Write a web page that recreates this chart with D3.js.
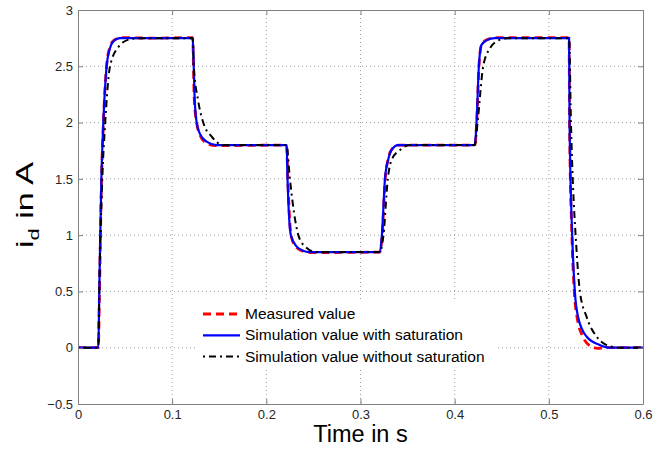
<!DOCTYPE html>
<html>
<head>
<meta charset="utf-8">
<script src="https://cdn.jsdelivr.net/npm/d3@7"></script>
<style>
  body { margin: 0; background: #fff; }
  svg { display: block; font-family: Arial, "Liberation Sans", sans-serif; }
</style>
</head>
<body>
<div id="chart"></div>
<script>
// Data: [time in s, i_d in A]
const measured = [
    [0, 0], [0.0216, 0], [0.0228, 0.5], [0.025, 1.5], [0.027, 2.0], [0.0303, 2.5], [0.0335, 2.66],
    [0.038, 2.73], [0.046, 2.755], [0.08, 2.75], [0.1217, 2.755], [0.1235, 2.2], [0.126, 2.0],
    [0.1295, 1.89], [0.136, 1.82], [0.146, 1.795], [0.2215, 1.8], [0.2228, 1.5], [0.2262, 1.0],
    [0.232, 0.89], [0.24, 0.855], [0.247, 0.845], [0.3206, 0.85], [0.323, 1.0], [0.3262, 1.5],
    [0.3295, 1.68], [0.3335, 1.765], [0.341, 1.8], [0.4214, 1.8], [0.4234, 2.0], [0.4258, 2.5],
    [0.4285, 2.69], [0.434, 2.735], [0.443, 2.755], [0.5215, 2.755], [0.522, 2.0], [0.5245, 1.0],
    [0.527, 0.5], [0.53, 0.27], [0.536, 0.1], [0.545, 0.01], [0.552, -0.005], [0.56, 0], [0.6, 0]
];

const withSaturation = [
    [0, 0], [0.0216, 0], [0.0226, 0.5], [0.0248, 1.5], [0.0269, 2.0], [0.0304, 2.5], [0.0335, 2.65],
    [0.0375, 2.72], [0.0446, 2.75], [0.1217, 2.75], [0.124, 2.19], [0.126, 2.0], [0.1295, 1.9],
    [0.1366, 1.83], [0.147, 1.8], [0.2215, 1.8], [0.2225, 1.5], [0.226, 1.0], [0.232, 0.9],
    [0.239, 0.862], [0.246, 0.85], [0.3206, 0.85], [0.3227, 1.0], [0.326, 1.5], [0.3294, 1.67],
    [0.333, 1.757], [0.34, 1.8], [0.4214, 1.8], [0.4232, 2.0], [0.4257, 2.5], [0.4285, 2.69],
    [0.4338, 2.73], [0.4427, 2.75], [0.5215, 2.75], [0.522, 2.0], [0.5248, 1.0], [0.5276, 0.5],
    [0.531, 0.276], [0.54, 0.1], [0.554, 0.025], [0.565, 0], [0.6, 0]
];

const withoutSaturation = [
    [0, 0], [0.0216, 0], [0.0226, 0.5], [0.0258, 1.5], [0.0289, 2.0], [0.034, 2.5], [0.0428, 2.67],
    [0.055, 2.74], [0.066, 2.75], [0.1217, 2.75], [0.123, 2.5], [0.1277, 2.19], [0.133, 2.0],
    [0.142, 1.875], [0.154, 1.8], [0.2215, 1.8], [0.225, 1.5], [0.234, 1.0], [0.241, 0.9],
    [0.253, 0.85], [0.3206, 0.85], [0.3244, 1.0], [0.329, 1.5], [0.333, 1.668], [0.342, 1.757],
    [0.3524, 1.8], [0.4214, 1.8], [0.4243, 2.0], [0.4303, 2.5], [0.4374, 2.66], [0.4444, 2.72],
    [0.4565, 2.75], [0.5215, 2.75], [0.5235, 2.0], [0.5294, 0.87], [0.533, 0.5], [0.54, 0.276],
    [0.5506, 0.1], [0.561, 0.025], [0.575, 0], [0.6, 0]
];

const xTicks = [0, 0.1, 0.2, 0.3, 0.4, 0.5, 0.6];
const yTicks = [-0.5, 0, 0.5, 1, 1.5, 2, 2.5, 3];
const seriesNames = ["Measured value", "Simulation value with saturation", "Simulation value without saturation"];

// Space
const W = 667, H = 450;
const margin = { top: 10, right: 24, bottom: 46, left: 78 };
const width = W - margin.left - margin.right,
      height = H - margin.top - margin.bottom;

const svg = d3.select("#chart").append("svg")
    .attr("width", W)
    .attr("height", H);

const g = svg.append("g")
    .attr("transform", `translate(${margin.left},${margin.top})`);

const x = d3.scaleLinear().domain([0, 0.6]).range([0, width]);
const y = d3.scaleLinear().domain([-0.5, 3]).range([height, 0]);

// Grid (dotted, MATLAB style)
g.append("g").selectAll("line")
    .data(xTicks.slice(1, -1))
    .join("line")
    .attr("x1", d => x(d)).attr("x2", d => x(d))
    .attr("y1", 0).attr("y2", height)
    .attr("stroke", "#a0a0a0")
    .attr("stroke-width", 1)
    .attr("stroke-dasharray", "1,3");

g.append("g").selectAll("line")
    .data(yTicks.slice(1, -1))
    .join("line")
    .attr("y1", d => y(d)).attr("y2", d => y(d))
    .attr("x1", 0).attr("x2", width)
    .attr("stroke", "#a0a0a0")
    .attr("stroke-width", 1)
    .attr("stroke-dasharray", "1,3");

// Series
const line = d3.line()
    .curve(d3.curveMonotoneX)
    .x(d => x(d[0]))
    .y(d => y(d[1]));

g.append("path")
    .datum(measured)
    .attr("fill", "none")
    .attr("stroke", "#ff0000")
    .attr("stroke-width", 2.8)
    .attr("stroke-dasharray", "8,5")
    .attr("d", line);

g.append("path")
    .datum(withSaturation)
    .attr("fill", "none")
    .attr("stroke", "#0000ff")
    .attr("stroke-width", 2.2)
    .attr("d", line);

g.append("path")
    .datum(withoutSaturation)
    .attr("fill", "none")
    .attr("stroke", "#000000")
    .attr("stroke-width", 2)
    .attr("stroke-dasharray", "2,4,7,4")
    .attr("d", line);

// Axes: ticks pointing inward on all four sides
const fmt = d => String(d).replace("-", "\u2212");

function styleAxis(sel) {
    sel.select(".domain").attr("stroke", "#808080");
    sel.selectAll(".tick line").attr("stroke", "#808080");
    sel.selectAll(".tick text")
        .attr("fill", "#262626")
        .style("font-size", "13px")
        .style("font-family", "Arial, 'Liberation Sans', sans-serif");
}

g.append("g")
    .attr("transform", `translate(0,${height})`)
    .call(d3.axisBottom(x).tickValues(xTicks).tickFormat(fmt).tickSizeInner(-5).tickSizeOuter(0).tickPadding(6))
    .call(styleAxis);

g.append("g")
    .call(d3.axisTop(x).tickValues(xTicks).tickFormat("").tickSizeInner(-5).tickSizeOuter(0))
    .call(styleAxis);

g.append("g")
    .call(d3.axisLeft(y).tickValues(yTicks).tickFormat(fmt).tickSizeInner(-5).tickSizeOuter(0).tickPadding(5))
    .call(styleAxis);

g.append("g")
    .attr("transform", `translate(${width},0)`)
    .call(d3.axisRight(y).tickValues(yTicks).tickFormat("").tickSizeInner(-5).tickSizeOuter(0))
    .call(styleAxis);

// Axis titles
svg.append("text")
    .attr("x", margin.left + width / 2)
    .attr("y", 442)
    .attr("text-anchor", "middle")
    .style("font-size", "23.5px")
    .style("fill", "#000")
    .text("Time in s");

const yTitle = svg.append("text")
    .attr("transform", "translate(33,205) rotate(-90) scale(1.45,1)")
    .attr("text-anchor", "middle")
    .style("font-size", "23.5px")
    .style("fill", "#000");
yTitle.append("tspan").text("i");
yTitle.append("tspan").attr("dy", 6).style("font-size", "15px").text("d");
yTitle.append("tspan").attr("dy", -6).text(" in A");

// Legend (white background, no border)
const legend = svg.append("g");
legend.append("rect")
    .attr("x", 195).attr("y", 302)
    .attr("width", 303).attr("height", 68)
    .attr("fill", "#fff");

const legendStyles = [
    { color: "#ff0000", w: 2.8, dash: "8,5" },
    { color: "#0000ff", w: 2.2, dash: null },
    { color: "#000000", w: 2, dash: "2,4,7,4" }
];

const rows = legend.selectAll("g.row")
    .data(seriesNames)
    .join("g")
    .attr("class", "row")
    .attr("transform", (d, i) => `translate(0,${314 + i * 21.3})`);

rows.append("line")
    .attr("x1", 203).attr("x2", 240)
    .attr("y1", 0).attr("y2", 0)
    .attr("stroke", (d, i) => legendStyles[i].color)
    .attr("stroke-width", (d, i) => legendStyles[i].w)
    .attr("stroke-dasharray", (d, i) => legendStyles[i].dash);

rows.append("text")
    .attr("x", 245)
    .attr("y", 5)
    .style("font-size", "15.5px")
    .style("fill", "#000")
    .text(d => d);
</script>
</body>
</html>
